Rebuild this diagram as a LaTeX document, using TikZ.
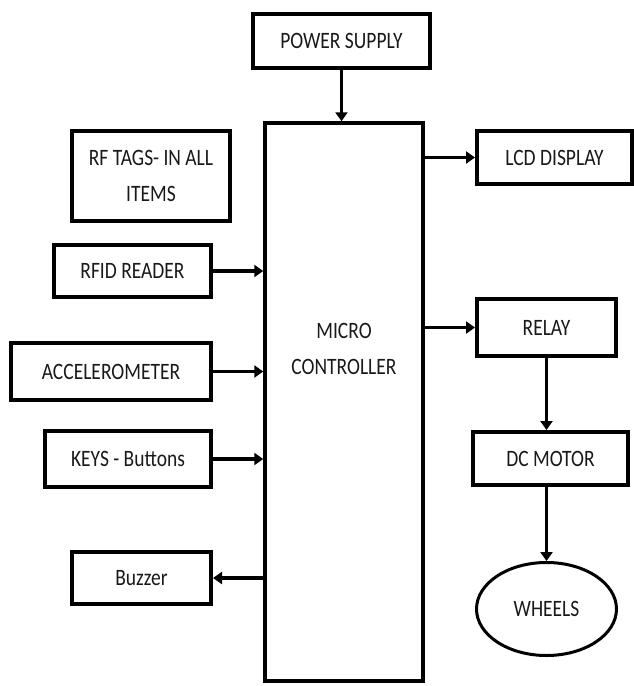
\documentclass[tikz,border=0pt]{standalone}
\usepackage{fontspec}
\setmainfont{Carlito}[FakeStretch=0.83]
\usepackage{tikz}
\usetikzlibrary{arrows.meta,shapes.geometric}

\begin{document}
\begin{tikzpicture}[x=1pt, y=-1pt,
    blk/.style={draw, line width=4pt, inner sep=0pt, align=center, text=black!90, font=\fontsize{23.5}{36}\selectfont},
    arr/.style={line width=3.5pt, -{Triangle[length=9pt, width=12pt]}}]
    \useasboundingbox (0,0) rectangle (634,686);
    \node[blk, minimum width=177pt, minimum height=54pt] (ps) at (341.5,41) {POWER SUPPLY};
    \node[blk, line width=3.5pt, minimum width=158pt, minimum height=558pt,
        label={[align=center, text=black!90, font=\fontsize{23.5}{36}\selectfont, yshift=53pt]center:MICRO\\CONTROLLER}] (mcu) at (344,402) {};
    \node[blk, minimum width=158pt, minimum height=90pt] (tags) at (151,176) {RF TAGS- IN ALL\\ITEMS};
    \node[blk, minimum width=157pt, minimum height=52pt] (rfid) at (132.5,271) {RFID READER};
    \node[blk, minimum width=200pt, minimum height=57pt] (acc) at (111,371.5) {ACCELEROMETER};
    \node[blk, minimum width=166pt, minimum height=56pt] (keys) at (128,459) {KEYS - Buttons};
    \node[blk, minimum width=139pt, minimum height=52pt] (buzz) at (141.5,578) {Buzzer};
    \node[blk, minimum width=155pt, minimum height=53pt] (lcd) at (554.5,157.5) {LCD DISPLAY};
    \node[blk, minimum width=139pt, minimum height=57pt] (relay) at (546.5,327.5) {RELAY};
    \node[blk, minimum width=155pt, minimum height=53pt] (dcm) at (550.5,458.5) {DC MOTOR};
    \node[blk, ellipse, line width=3pt, minimum width=140pt, minimum height=93pt] (wheels) at (546.5,609) {WHEELS};
    \draw[arr] (ps.south) -- (ps.south |- mcu.north);
    \draw[arr] (mcu.east |- lcd.west) -- (lcd.west);
    \draw[arr] (rfid.east) -- (rfid.east -| mcu.west);
    \draw[arr] (acc.east) -- (acc.east -| mcu.west);
    \draw[arr] (keys.east) -- (keys.east -| mcu.west);
    \draw[arr] (buzz.east -| mcu.west) -- (buzz.east);
    \draw[arr] (mcu.east |- relay.west) -- (relay.west);
    \draw[arr] (relay.south) -- (relay.south |- dcm.north);
    \draw[arr] (dcm.south -| wheels.north) -- (wheels.north);
\end{tikzpicture}
\end{document}
